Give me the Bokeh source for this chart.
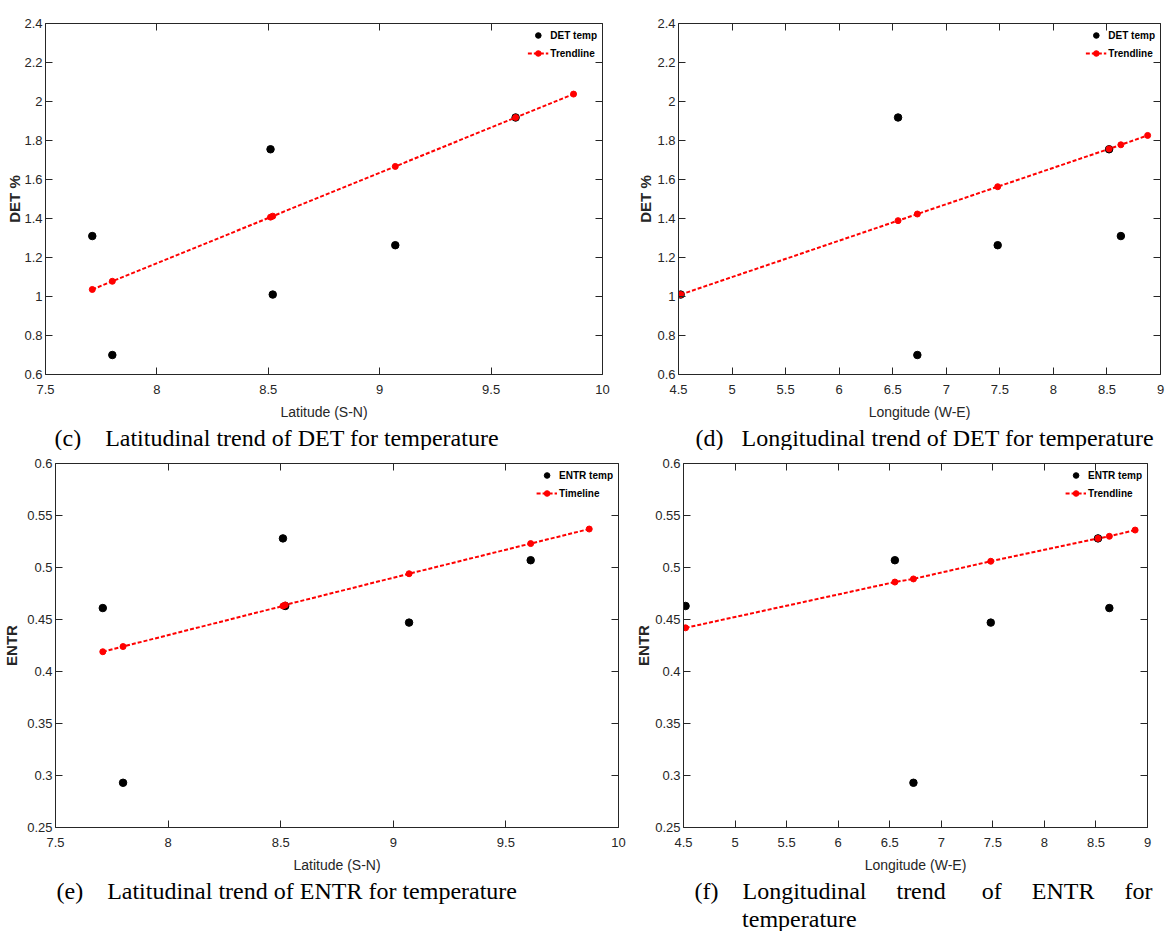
from bokeh.plotting import figure
from bokeh.layouts import column, row
from bokeh.models import (Range1d, FixedTicker, LinearAxis, Legend, LegendItem,
                          Title, CustomJSTickFormatter)
from bokeh.embed import file_html
from bokeh.resources import INLINE

# ---------------- data ----------------
# station values (same six stations in every panel)
lat_station = [7.71, 7.80, 8.51, 8.52, 9.07, 9.61]
lon_station = [8.63, 6.73, 8.52, 4.52, 7.48, 6.55]
det_temp = [1.31, 0.70, 1.755, 1.01, 1.263, 1.918]
entr_temp = [0.461, 0.293, 0.528, 0.463, 0.447, 0.507]

# trendline points
lat_trend_x = [7.71, 7.80, 8.51, 8.52, 9.07, 9.61, 9.87]
det_lat_trend = [1.036, 1.078, 1.407, 1.412, 1.667, 1.918, 2.038]
entr_lat_trend = [0.419, 0.424, 0.463, 0.464, 0.494, 0.523, 0.537]

lon_trend_x = [4.52, 6.55, 6.73, 7.48, 8.52, 8.63, 8.88]
det_lon_trend = [1.010, 1.389, 1.423, 1.563, 1.757, 1.778, 1.826]
entr_lon_trend = [0.442, 0.486, 0.489, 0.506, 0.528, 0.530, 0.536]

# ticks
lat_ticks = [7.5, 8, 8.5, 9, 9.5, 10]
lat_tick_labels = ["7.5", "8", "8.5", "9", "9.5", "10"]
lon_ticks = [4.5, 5, 5.5, 6, 6.5, 7, 7.5, 8, 8.5, 9]
lon_tick_labels = ["4.5", "5", "5.5", "6", "6.5", "7", "7.5", "8", "8.5", "9"]
det_ticks = [0.6, 0.8, 1.0, 1.2, 1.4, 1.6, 1.8, 2.0, 2.2, 2.4]
det_tick_labels = ["0.6", "0.8", "1", "1.2", "1.4", "1.6", "1.8", "2", "2.2", "2.4"]
entr_ticks = [0.25, 0.3, 0.35, 0.4, 0.45, 0.5, 0.55, 0.6]
entr_tick_labels = ["0.25", "0.3", "0.35", "0.4", "0.45", "0.5", "0.55", "0.6"]

AX = "#262626"
SANS = "Liberation Sans"
SERIF = "Liberation Serif"
NB = "\u00a0"


def style_axis(ax, ticks, labels, show):
    ax.ticker = FixedTicker(ticks=ticks)
    ax.minor_tick_line_color = None
    ax.major_tick_in = 7
    ax.major_tick_out = 0
    ax.axis_line_color = AX
    ax.axis_line_width = 1
    ax.major_tick_line_color = AX
    if show:
        ax.formatter = CustomJSTickFormatter(code="return tick.toString()")
        ax.major_label_overrides = dict(zip(ticks, labels))
        ax.major_label_text_font = SANS
        ax.major_label_text_font_size = "13px"
        ax.major_label_text_color = AX
    else:
        ax.formatter = CustomJSTickFormatter(code="return ''")
        ax.major_label_standoff = 0
        ax.major_label_text_font_size = "0px"


def panel(width, height, bl, br, bt, bb, xr, yr, xticks, xlabels, yticks, ylabels,
          xtitle, ytitle, ylabel_standoff, xs, ys, tx, ty, name1, name2, captions):
    p = figure(width=width, height=height, output_backend="svg", toolbar_location=None,
               x_range=Range1d(*xr), y_range=Range1d(*yr),
               min_border_left=bl, min_border_right=br, min_border_top=bt,
               min_border_bottom=bb)
    p.xgrid.visible = False
    p.ygrid.visible = False
    p.outline_line_color = None
    p.background_fill_color = "white"
    p.border_fill_color = "white"

    xa = p.xaxis[0]
    ya = p.yaxis[0]
    style_axis(xa, xticks, xlabels, True)
    style_axis(ya, yticks, ylabels, True)
    xa.major_label_standoff = 10
    ya.major_label_standoff = 3
    xa.axis_label = xtitle
    xa.axis_label_text_font = SANS
    xa.axis_label_text_font_size = "14px"
    xa.axis_label_text_font_style = "normal"
    xa.axis_label_text_color = AX
    xa.axis_label_standoff = 7
    ya.axis_label = ytitle
    ya.axis_label_text_font = SANS
    ya.axis_label_text_font_size = "15px"
    ya.axis_label_text_font_style = "bold"
    ya.axis_label_text_color = AX
    ya.axis_label_standoff = ylabel_standoff

    top = LinearAxis()
    style_axis(top, xticks, xlabels, False)
    p.add_layout(top, "above")
    right = LinearAxis()
    style_axis(right, yticks, ylabels, False)
    p.add_layout(right, "right")

    r_pts = p.scatter(xs, ys, size=7.5, color="black")
    r_line = p.line(tx, ty, line_color="#ff0000", line_width=2, line_dash="4 2")
    r_tp = p.scatter(tx, ty, size=6, color="#ff0000")

    legend = Legend(items=[LegendItem(label=name1, renderers=[r_pts]),
                           LegendItem(label=name2, renderers=[r_line, r_tp])],
                    location="top_right", border_line_color=None,
                    background_fill_alpha=0,
                    label_text_font=SANS, label_text_font_style="bold",
                    label_text_font_size="10px", label_text_color="black",
                    label_standoff=2, glyph_width=21, glyph_height=14,
                    label_height=14, spacing=4, padding=6, margin=5)
    p.add_layout(legend)

    for text, offset, standoff in captions:
        p.add_layout(Title(text=text, align="left", offset=offset, standoff=standoff,
                           text_font=SERIF, text_font_size="24px",
                           text_font_style="normal", text_color="black"), "below")
    return p


pc = panel(629, 450, 45, 27, 16, 76, (7.5, 10), (0.6, 2.4), lat_ticks, lat_tick_labels,
           det_ticks, det_tick_labels, "Latitude (S-N)", "DET %", -2,
           lat_station, det_temp, lat_trend_x, det_lat_trend, "DET temp", "Trendline",
           [("(c)" + NB * 4 + "Latitudinal trend of DET for temperature", 9, 0)])

pd_ = panel(538, 450, 49, 7, 23, 75, (4.5, 9), (0.6, 2.4), lon_ticks, lon_tick_labels,
            det_ticks, det_tick_labels, "Longitude (W-E)", "DET %", 0,
            lon_station, det_temp, lon_trend_x, det_lon_trend, "DET temp", "Trendline",
            [("(d)" + NB * 3 + "Longitudinal trend of DET for temperature", 17, 0)])

pe = panel(631, 481, 53, 13, 13, 104, (7.5, 10), (0.25, 0.6), lat_ticks, lat_tick_labels,
           entr_ticks, entr_tick_labels, "Latitude (S-N)", "ENTR", 4,
           lat_station, entr_temp, lat_trend_x, entr_lat_trend, "ENTR temp", "Timeline",
           [("(e)" + NB * 4 + "Latitudinal trend of ENTR for temperature", 1, 0)])

pf = panel(536, 481, 52, 20, 11, 104, (4.5, 9), (0.25, 0.6), lon_ticks, lon_tick_labels,
           entr_ticks, entr_tick_labels, "Longitude (W-E)", "ENTR", 0,
           lon_station, entr_temp, lon_trend_x, entr_lon_trend, "ENTR temp", "Trendline",
           [("(f)" + NB * 4 + "Longitudinal" + NB * 5 + "trend" + NB * 6 + "of"
             + NB * 5 + "ENTR" + NB * 5 + "for", 11, 0),
            ("temperature", 58.6, 0)])

layout = column(row(pc, pd_), row(pe, pf))
open("out.html", "w").write(file_html(layout, INLINE))
